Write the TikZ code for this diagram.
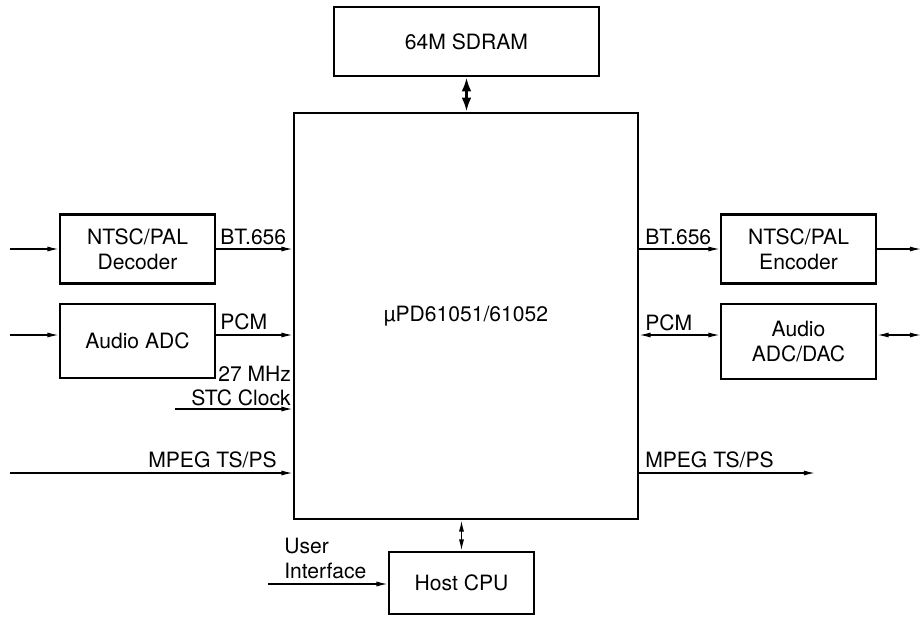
\documentclass[tikz,border=0pt]{standalone}
\usepackage{fontspec}
\setmainfont{TeX Gyre Heros}
\usetikzlibrary{arrows.meta}

\begin{document}
\begin{tikzpicture}[x=0.025cm, y=-0.025cm]
% One unit is one pixel of the 920x624 frame
\def\px{0.025cm}
\tikzset{
  block/.style={draw, line width=1.9pt, align=center, inner sep=0pt,
    font=\fontsize{15}{18}\selectfont},
  sig/.style={line width=0.9pt, -{Latex[length=8pt, width=3.6pt]}},
  bisig/.style={line width=0.9pt, {Latex[length=8pt, width=3.6pt]}-{Latex[length=8pt, width=3.6pt]}},
  busarrow/.style={line width=2.2pt, {Latex[length=10pt, width=7pt]}-{Latex[length=10pt, width=7pt]}},
  sigtext/.style={inner sep=0pt, font=\fontsize{15}{18}\selectfont}
}
\useasboundingbox (0,0) rectangle (920,624);

% Draw the blocks
\node[block, minimum width=265*\px, minimum height=69*\px] (sdram) at (466.5, 41.5) {64M SDRAM};
\node[block, minimum width=344*\px, minimum height=406*\px] (chip) at (466, 316) {\textmu PD61051/61052};
\node[block, minimum width=155*\px, minimum height=69*\px] (dec) at (137.5, 249) {NTSC/PAL\\Decoder};
\node[block, minimum width=155*\px, minimum height=74*\px] (adc) at (137.5, 341) {Audio ADC};
\node[block, minimum width=155*\px, minimum height=69*\px] (enc) at (798.5, 249) {NTSC/PAL\\Encoder};
\node[block, minimum width=155*\px, minimum height=75*\px] (dac) at (798.5, 341.5) {Audio\\ADC/DAC};
\node[block, minimum width=145*\px, minimum height=62*\px] (cpu) at (461.5, 583) {Host CPU};

% Free ends of the signal lines
\coordinate (decin) at (10, 249);
\coordinate (adcin) at (10, 335);
\coordinate (encout) at (921, 249);
\coordinate (dacout) at (921, 335);
\coordinate (clk) at (175, 409);
\coordinate (tsin) at (10, 473);
\coordinate (tsout) at (815, 473);
\coordinate (ui) at (268, 584);

% Draw the connections
\draw[busarrow] (sdram.south) -- (sdram.south |- chip.north);
\draw[bisig] (cpu.north) -- (cpu.north |- chip.south);
\draw[sig] (decin) -- (decin -| dec.west);
\draw[sig] (dec.east) -- (dec.east -| chip.west);
\draw[sig] (adcin) -- (adcin -| adc.west);
\draw[sig] (adcin -| adc.east) -- (adcin -| chip.west);
\draw[sig] (clk) -- (clk -| chip.west);
\draw[sig] (tsin) -- (tsin -| chip.west);
\draw[sig] (enc.west -| chip.east) -- (enc.west);
\draw[sig] (enc.east) -- (encout);
\draw[bisig] (dacout -| chip.east) -- (dacout -| dac.west);
\draw[bisig] (dacout -| dac.east) -- (dacout);
\draw[sig] (tsout -| chip.east) -- (tsout);
\draw[sig] (ui) -- (ui -| cpu.west);

% Signal names
\node[sigtext, anchor=base west] (btin) at (220, 244) {BT.656};
\node[sigtext, anchor=base west] (pcmin) at (220, 329) {PCM};
\node[sigtext, anchor=base west] (mhz) at (218, 381) {27 MHz};
\node[sigtext, anchor=base east] (stc) at (291, 405) {STC Clock};
\node[sigtext, anchor=base east] (tsinlbl) at (277, 467) {MPEG TS/PS};
\node[sigtext, anchor=base west] (btout) at (645, 244) {BT.656};
\node[sigtext, anchor=base west] (pcmout) at (645, 330) {PCM};
\node[sigtext, anchor=base west] (tsoutlbl) at (645, 467) {MPEG TS/PS};
\node[sigtext, anchor=base west] (user) at (284, 553) {User};
\node[sigtext, anchor=base west] (iface) at (284, 578) {Interface};
\end{tikzpicture}
\end{document}
